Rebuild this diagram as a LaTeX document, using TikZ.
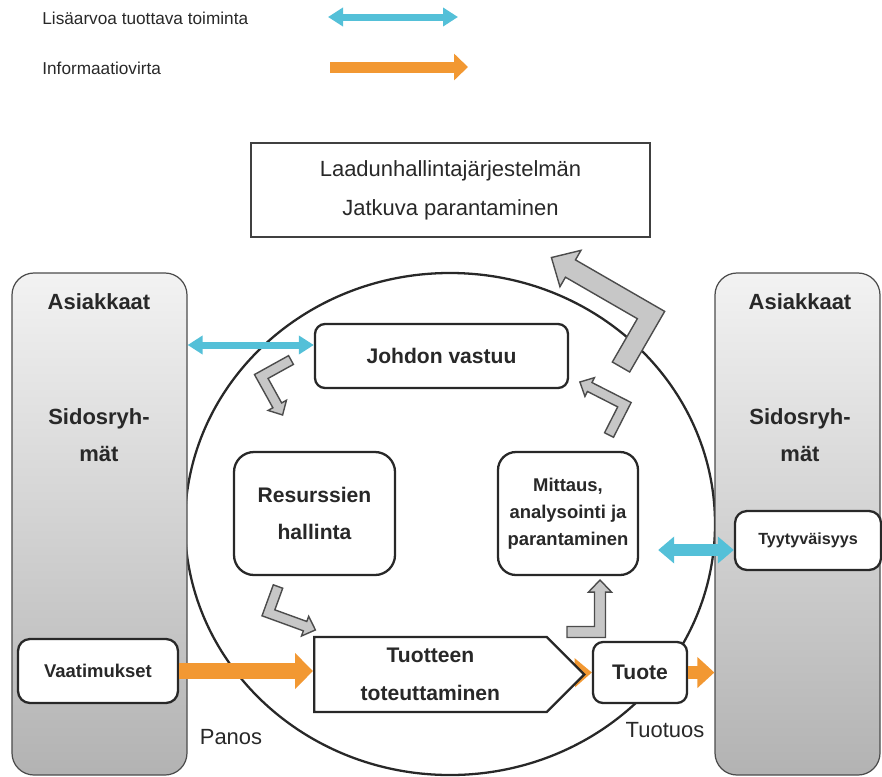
\documentclass[tikz,border=0pt]{standalone}
\usepackage{fontspec}
\setmainfont{Liberation Sans}
\usetikzlibrary{arrows.meta,shapes.symbols,backgrounds}
\definecolor{valblue}{RGB}{84,192,216}
\definecolor{infoorange}{RGB}{242,152,50}
\definecolor{ink}{RGB}{40,40,40}
\tikzset{
  blk/.style={draw=ink,line width=1.3pt,fill=white,align=center,text=ink,
    font=\bfseries\fontsize{12}{21.5}\selectfont,inner sep=2pt},
  qms/.style={draw=black!75,line width=0.8pt,align=center,text=ink,
    font=\fontsize{12.5}{22}\selectfont},
  side/.style={draw=black!70,line width=0.7pt,rounded corners=4.4mm,
    top color=black!5,bottom color=black!30},
  sidetxt/.style={align=center,text=ink,font=\bfseries\fontsize{12.5}{21}\selectfont},
  plain/.style={text=ink,font=\fontsize{12.5}{15}\selectfont},
  legtxt/.style={text=ink,font=\fontsize{9.8}{12}\selectfont,inner sep=0pt},
  valarr/.style={draw=valblue,line width=1.4mm,
    arrows={Triangle[length=3mm,width=3.6mm]-Triangle[length=3mm,width=3.6mm]}},
  valarrbig/.style={draw=valblue,line width=2.4mm,
    arrows={Triangle[length=3.2mm,width=5.2mm]-Triangle[length=3.2mm,width=5.2mm]}},
  infarr/.style={draw=infoorange,line width=3.2mm,arrows={-Triangle[length=3.6mm,width=7mm]}},
  bentarr/.style={draw=black!70,line width=0.8pt,fill=black!22,line join=miter},
  pics/bent/.style n args={3}{code={
    \pgfmathsetmacro\bnA{#1}\pgfmathsetmacro\bnB{#2}\pgfmathsetmacro\bnS{#3}
    \draw[bentarr] (0,\bnS) -- ({\bnA+\bnS},\bnS) -- ({\bnA+\bnS},{2.2*\bnS-\bnB})
      -- ({\bnA+2.1*\bnS},{2.2*\bnS-\bnB}) -- (\bnA,-\bnB)
      -- ({\bnA-2.1*\bnS},{2.2*\bnS-\bnB}) -- ({\bnA-\bnS},{2.2*\bnS-\bnB})
      -- ({\bnA-\bnS},-\bnS) -- (0,-\bnS) -- cycle;
  }},
}
\begin{document}
\begin{tikzpicture}[x=0.2mm,y=-0.2mm]
\useasboundingbox (0,0) rectangle (882,776);
\node[legtxt,anchor=west] (lgval) at (42,18) {Lisäarvoa tuottava toiminta};
\node[legtxt,anchor=west] (lginf) at (42,68) {Informaatiovirta};
\coordinate (lgvalA) at (328,17); \coordinate (lgvalB) at (458,17);
\coordinate (lginfA) at (330,67); \coordinate (lginfB) at (468,67);
\draw[valarr] (lgvalA) -- (lgvalB);
\draw[infarr,line width=2.2mm,arrows={-Triangle[length=2.8mm,width=5.2mm]}] (lginfA) -- (lginfB);
\node[qms,minimum width=79.8mm,minimum height=18.8mm] (qms) at (450.5,190)
  {Laadunhallintajärjestelmän\\Jatkuva parantaminen};
\draw[line width=1.3pt,draw=ink] (450,524) ellipse [x radius=53mm,y radius=50.2mm];
\node[side,minimum width=35mm,minimum height=100.4mm] (clientsL) at (99.5,524) {};
\node[side,minimum width=33mm,minimum height=100.4mm] (clientsR) at (797.5,524) {};
\node[sidetxt] (asL) at (99,302) {Asiakkaat};
\node[sidetxt] (sgL) at (99,435) {Sidosryh-\\mät};
\node[sidetxt] (asR) at (800,302) {Asiakkaat};
\node[sidetxt] (sgR) at (800,435) {Sidosryh-\\mät};
\node[blk,rounded corners=2mm,minimum width=50.6mm,minimum height=12.8mm] (jv) at (441.5,356) {Johdon vastuu};
\node[blk,rounded corners=4mm,minimum width=32.2mm,minimum height=24.6mm] (res) at (314.5,513.5) {Resurssien\\hallinta};
\node[blk,rounded corners=3.6mm,minimum width=28mm,minimum height=24.6mm,
  font=\bfseries\fontsize{10.5}{15.3}\selectfont] (mit) at (568,513.5) {Mittaus,\\analysointi ja\\parantaminen};
\node[blk,signal,signal to=east,anchor=west,minimum width=54mm,minimum height=15mm] (tuot) at (313,674.5) {Tuotteen\\toteuttaminen};
\node[blk,rounded corners=2mm,minimum width=18.8mm,minimum height=12.2mm] (tuote) at (640,672.5) {Tuote};
\node[blk,rounded corners=2.4mm,minimum width=32mm,minimum height=12.8mm,
  font=\bfseries\fontsize{10.5}{12}\selectfont] (vaat) at (98,671) {Vaatimukset};
\node[blk,rounded corners=2.4mm,minimum width=29.2mm,minimum height=11.8mm,
  font=\bfseries\fontsize{9.2}{11}\selectfont] (tyyt) at (808,540.5) {Tyytyväisyys};
\node[plain] (panos) at (231,737) {Panos};
\node[plain] (tuotuos) at (665,730) {Tuotuos};
\coordinate (jvin) at ([yshift=2.2mm]jv.west);
\draw[valarr] (jvin -| clientsL.east) -- (jvin);
\coordinate (tyin) at ([yshift=-1.9mm]tyyt.west);
\coordinate (mitout) at ([xshift=3.8mm]mit.east);
\draw[valarrbig] (tyin -| mitout) -- (tyin);
\draw[infarr] (vaat.east) -- (vaat.east -| tuot.west);
\draw[infarr,line width=2.6mm,arrows={-Triangle[length=3.4mm,width=6mm]}] (tuote.east) -- (tuote.east -| clientsR.west);
\begin{scope}[on background layer]
\draw[infarr,line width=2.6mm,arrows={-Triangle[length=3.4mm,width=5.6mm]}] (tuot.center) -- (tuote.west);
\end{scope}
\pic[rotate=209] at (291,360) {bent={34}{44}{5}};
\pic[rotate=63] at (609,435) {bent={34}{50}{5}};
\pic[rotate=60] at (621,367) {bent={60}{115}{10}};
\pic[rotate=250] at (278,586.5) {bent={28}{50}{5}};
\pic[rotate=0] at (567,632) {bent={33}{52}{5.5}};
\end{tikzpicture}
\end{document}
